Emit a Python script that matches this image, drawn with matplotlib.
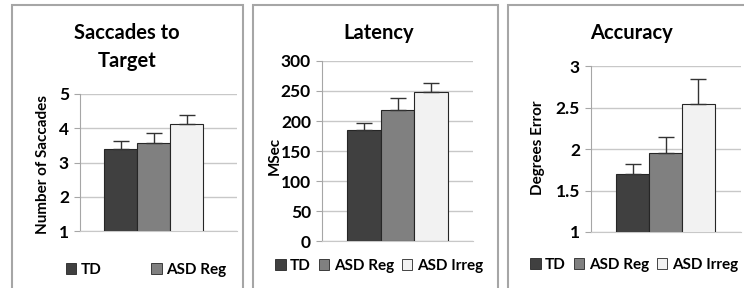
import matplotlib.pyplot as plt
from matplotlib.patches import Patch, Rectangle

groups = ['TD', 'ASD Reg', 'ASD Irreg']
colors = ['#404040', '#808080', '#f2f2f2']

saccades = [3.38, 3.58, 4.13]
saccades_err = [0.25, 0.27, 0.26]
latency = [185, 219, 249]
latency_err = [11, 20, 15]
accuracy = [1.70, 1.95, 2.54]
accuracy_err = [0.12, 0.20, 0.30]

W, H = 744, 288
plt.rcParams['font.family'] = ['Lato', 'DejaVu Sans']
plt.rcParams['font.weight'] = 'bold'

fig = plt.figure(figsize=(W / 100, H / 100), dpi=100)
fig.patch.set_facecolor('white')


def px_rect(l, t, r, b):
    return [l / W, 1 - b / H, (r - l) / W, (b - t) / H]


def fx(x):
    return x / W


def fy(y):
    return 1 - y / H


# panel frames
for l, r in [(12, 243), (253, 498), (508, 770)]:
    fig.patches.append(Rectangle((fx(l), fy(320)), fx(r) - fx(l), fy(5) - fy(320),
                                 transform=fig.transFigure, fill=False,
                                 edgecolor='#a6a6a6', linewidth=1.5, zorder=0))


def panel(rect, vals, errs, ylim, yticks, ticklabels, xlim):
    ax = fig.add_axes(px_rect(*rect))
    x = range(len(vals))
    ax.bar(x, vals, width=1.0, color=colors, edgecolor='#262626', linewidth=0.8, zorder=3)
    ax.errorbar(x, vals, yerr=[[0] * len(errs), errs], fmt='none', ecolor='#333333',
                elinewidth=1, capsize=6, capthick=1, zorder=4)
    ax.set_ylim(*ylim)
    ax.set_xlim(*xlim)
    ax.set_yticks(yticks)
    ax.set_yticklabels(ticklabels, fontsize=12.5, fontweight='bold')
    ax.set_xticks([])
    ax.grid(axis='y', color='#c8c8c8', linewidth=1, zorder=0)
    for s in ['top', 'right']:
        ax.spines[s].set_visible(False)
    ax.spines['bottom'].set_color('#c8c8c8')
    ax.spines['left'].set_color('#a6a6a6')
    ax.tick_params(axis='y', length=4, color='#a6a6a6', pad=4)
    ax.set_facecolor('none')
    return ax


panel((80, 94, 237, 231), saccades, saccades_err, (1, 5), [1, 2, 3, 4, 5],
      ['1', '2', '3', '4', '5'], (-1.23, 3.53))
panel((322, 61, 473, 241), latency, latency_err, (0, 300), [0, 50, 100, 150, 200, 250, 300],
      ['0', '50', '100', '150', '200', '250', '300'], (-1.24, 3.24))
panel((591, 66, 741, 232), accuracy, accuracy_err, (1, 3), [1, 1.5, 2, 2.5, 3],
      ['1', '1.5', '2', '2.5', '3'], (-1.26, 3.29))

# titles
fig.text(fx(127), fy(47), 'Saccades to\nTarget', ha='center', va='center',
         fontsize=14.5, fontweight='bold', linespacing=1.45)
fig.text(fx(379), fy(33), 'Latency', ha='center', va='center', fontsize=14.5, fontweight='bold')
fig.text(fx(631), fy(33), 'Accuracy', ha='center', va='center', fontsize=14.5, fontweight='bold')

# y labels
fig.text(fx(43), fy(165), 'Number of Saccades', rotation=90, ha='center', va='center',
         fontsize=11, fontweight='bold')
fig.text(fx(275), fy(156), 'MSec', rotation=90, ha='center', va='center',
         fontsize=11, fontweight='bold')
fig.text(fx(538), fy(148), 'Degrees Error', rotation=90, ha='center', va='center',
         fontsize=11, fontweight='bold')

# legends
handles = [Patch(facecolor=c, edgecolor='#262626', linewidth=0.6) for c in colors]
leg_kw = dict(loc='center', frameon=False, handlelength=0.7, handleheight=0.7,
              handletextpad=0.3, borderpad=0, prop={'size': 11, 'weight': 'bold'})
fig.legend(handles[:2], groups[:2], ncol=2, columnspacing=3.2,
           bbox_to_anchor=(fx(146), fy(270)), **leg_kw)
fig.legend(handles, groups, ncol=3, columnspacing=0.5,
           bbox_to_anchor=(fx(379), fy(266)), **leg_kw)
fig.legend(handles, groups, ncol=3, columnspacing=0.5,
           bbox_to_anchor=(fx(634), fy(265)), **leg_kw)

fig.savefig('out.png', dpi=100)
